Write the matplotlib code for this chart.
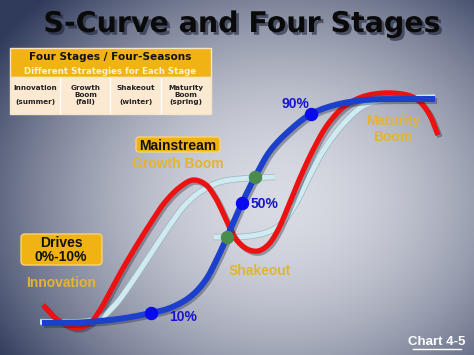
import matplotlib
matplotlib.use('Agg')
import matplotlib.pyplot as plt
import matplotlib.patheffects as pe
from matplotlib.patches import FancyBboxPatch, Rectangle
import numpy as np

# curve outlines (pixel coords, y down)
blue_x = [42, 70, 100, 125, 151, 170, 190, 205, 217, 227, 242, 255, 270, 290, 311, 335, 365, 400, 435]
blue_y = [323, 323, 321, 318, 313, 308, 297, 281, 259, 237, 203, 177, 151, 130, 114, 105, 100, 99, 99]

red_x = [43, 58, 77, 90, 100, 110, 122, 135, 150, 165, 180, 193, 205, 215, 225, 235, 247, 258, 268, 278, 288, 300, 313, 328, 345, 365, 392, 415, 428, 438]
red_y = [305, 320, 328, 323, 310, 292, 270, 248, 224, 202, 187, 180, 184, 197, 217, 238, 249, 251, 245, 230, 207, 178, 150, 124, 106, 96, 93, 98, 112, 135]

pale1_x = [40, 80, 100, 115, 130, 150, 170, 185, 200, 220, 250, 275]
pale1_y = [322, 322, 318, 305, 285, 255, 225, 205, 192, 182, 178, 177]

pale2_x = [214, 240, 265, 280, 295, 310, 325, 345, 365, 390, 435]
pale2_y = [237, 237, 233, 225, 205, 175, 148, 122, 105, 99, 97]

# milestone dots
pct_labels = ['10%', '50%', '90%']
pct_x = [151, 242, 311]
pct_y = [313, 203, 114]
green_x = [227, 255]
green_y = [237, 177]

stages = ['Innovation\n\n(summer)', 'Growth\nBoom\n(fall)', 'Shakeout\n\n(winter)', 'Maturity\nBoom\n(spring)']


def smooth(xs, ys, n=20, alpha=0.5):
    # centripetal catmull-rom through the read points
    p = np.column_stack([xs, ys]).astype(float)
    p = np.vstack([2 * p[0] - p[1], p, 2 * p[-1] - p[-2]])
    out = []
    for i in range(1, len(p) - 2):
        p0, p1, p2, p3 = p[i - 1], p[i], p[i + 1], p[i + 2]
        t0 = 0.0
        t1 = t0 + np.linalg.norm(p1 - p0) ** alpha
        t2 = t1 + np.linalg.norm(p2 - p1) ** alpha
        t3 = t2 + np.linalg.norm(p3 - p2) ** alpha
        t = np.linspace(t1, t2, n, endpoint=False)[:, None]
        a1 = (t1 - t) / (t1 - t0) * p0 + (t - t0) / (t1 - t0) * p1
        a2 = (t2 - t) / (t2 - t1) * p1 + (t - t1) / (t2 - t1) * p2
        a3 = (t3 - t) / (t3 - t2) * p2 + (t - t2) / (t3 - t2) * p3
        b1 = (t2 - t) / (t2 - t0) * a1 + (t - t0) / (t2 - t0) * a2
        b2 = (t3 - t) / (t3 - t1) * a2 + (t - t1) / (t3 - t1) * a3
        out.append((t2 - t) / (t2 - t1) * b1 + (t - t1) / (t2 - t1) * b2)
    out.append(p[-2][None, :])
    out = np.vstack(out)
    return out[:, 0], out[:, 1]


W, H = 474, 355
fig = plt.figure(figsize=(W / 100, H / 100), dpi=100)
ax = fig.add_axes([0, 0, 1, 1])
ax.set_xlim(0, W)
ax.set_ylim(H, 0)
ax.axis('off')

# background: radial glow, lighter in the middle
gx, gy = np.meshgrid(np.arange(W), np.arange(H))
r = np.sqrt(((gx - 280) / 340.0) ** 2 + ((gy - 200) / 280.0) ** 2)
r = np.clip(r, 0, 1)
inner = np.array([0.85, 0.86, 0.89])
outer = np.array([0.19, 0.23, 0.36])
k = r[..., None] ** 1.8
img = inner * (1 - k) + outer * k
ax.imshow(img, extent=[0, W, H, 0], aspect='auto', zorder=0)

# title
ax.text(242, 24, 'S-Curve and Four Stages', ha='center', va='center', fontsize=20.5,
        fontweight='bold', family='DejaVu Sans', color='#0a0a0a',
        path_effects=[pe.withSimplePatchShadow(offset=(2, -2), shadow_rgbFace='#20253a', alpha=0.6)])

# stage table
ax.add_patch(Rectangle((10, 48), 201, 29, facecolor='#f0b313', edgecolor='#f5e6c8', lw=1, zorder=2))
ax.add_patch(Rectangle((10, 77), 201, 37, facecolor='#fbe9d2', edgecolor='#f5e6c8', lw=1, zorder=2))
ax.text(110, 57.5, 'Four Stages / Four-Seasons', ha='center', va='center', fontsize=7.6,
        fontweight='bold', family='DejaVu Sans', color='#111111', zorder=3)
ax.text(110, 71, 'Different Strategies for Each Stage', ha='center', va='center', fontsize=6.2,
        fontweight='bold', family='DejaVu Sans', color='#fbf1d9', zorder=3)
col_w = 201 / 4
for i, s in enumerate(stages):
    ax.text(10 + col_w * (i + 0.5), 95, s, ha='center', va='center', fontsize=5.2,
            fontweight='bold', family='DejaVu Sans', color='#222222', linespacing=1.25, zorder=3)
    if i > 0:
        ax.plot([10 + col_w * i] * 2, [78, 113], color='#ffffff', lw=1, zorder=3)

# curves
shadow = [pe.SimpleLineShadow(offset=(1.5, -1.5), shadow_color='#1a1f33', alpha=0.35), pe.Normal()]
for xs, ys in [(pale1_x, pale1_y), (pale2_x, pale2_y)]:
    sx, sy = smooth(xs, ys)
    ax.plot(sx, sy, color='#cfeaf0', lw=3.6, solid_capstyle='butt', zorder=4,
            path_effects=[pe.Stroke(linewidth=4.6, foreground='#9fb3bc'), pe.Normal()])
sx, sy = smooth(red_x, red_y)
ax.plot(sx, sy, color='#ee1111', lw=3.8, solid_capstyle='butt', zorder=5, path_effects=shadow)
sx, sy = smooth(blue_x, blue_y)
ax.plot(sx, sy, color='#1c3fcc', lw=4.3, solid_capstyle='butt', zorder=6, path_effects=shadow)

ax.scatter(green_x, green_y, s=75, color='#4a8c4e', zorder=7)
ax.scatter(pct_x, pct_y, s=75, color='#0a0aee', zorder=7)

lbl = dict(ha='center', va='center', fontsize=10, fontweight='bold', family='Liberation Sans', zorder=8)
ax.text(183, 317, pct_labels[0], color='#1515cc', **lbl)
ax.text(265, 204, pct_labels[1], color='#1515cc', **lbl)
ax.text(295, 104, pct_labels[2], color='#1515cc', **lbl)

gold = '#e3b432'
ax.text(393, 129, 'Maturity\nBoom', color=gold, linespacing=1.1, **lbl)
ax.text(260, 271, 'Shakeout', color=gold, **lbl)
ax.text(61, 283, 'Innovation', color=gold, **lbl)
ax.text(178, 164, 'Growth Boom', color=gold, **lbl)

ax.add_patch(FancyBboxPatch((136, 137), 84, 15, boxstyle='round,pad=0,rounding_size=3',
                            facecolor='#f0b313', edgecolor='#f7d27a', lw=1, zorder=8))
ax.text(178, 145.5, 'Mainstream', color='#111111', **lbl)
ax.add_patch(FancyBboxPatch((21, 234), 81, 31, boxstyle='round,pad=0,rounding_size=4',
                            facecolor='#f0b313', edgecolor='#f7d27a', lw=1, zorder=8))
ax.text(61, 250, 'Drives\n0%-10%', color='#111111', linespacing=1.05, **lbl)

ax.text(437, 342, 'Chart 4-5', ha='center', va='center', fontsize=9.5, fontweight='bold',
        family='Liberation Sans', color='white', zorder=8)
ax.plot([413, 461], [349, 349], color='white', lw=1, zorder=8)

plt.savefig('out.png', dpi=100)
